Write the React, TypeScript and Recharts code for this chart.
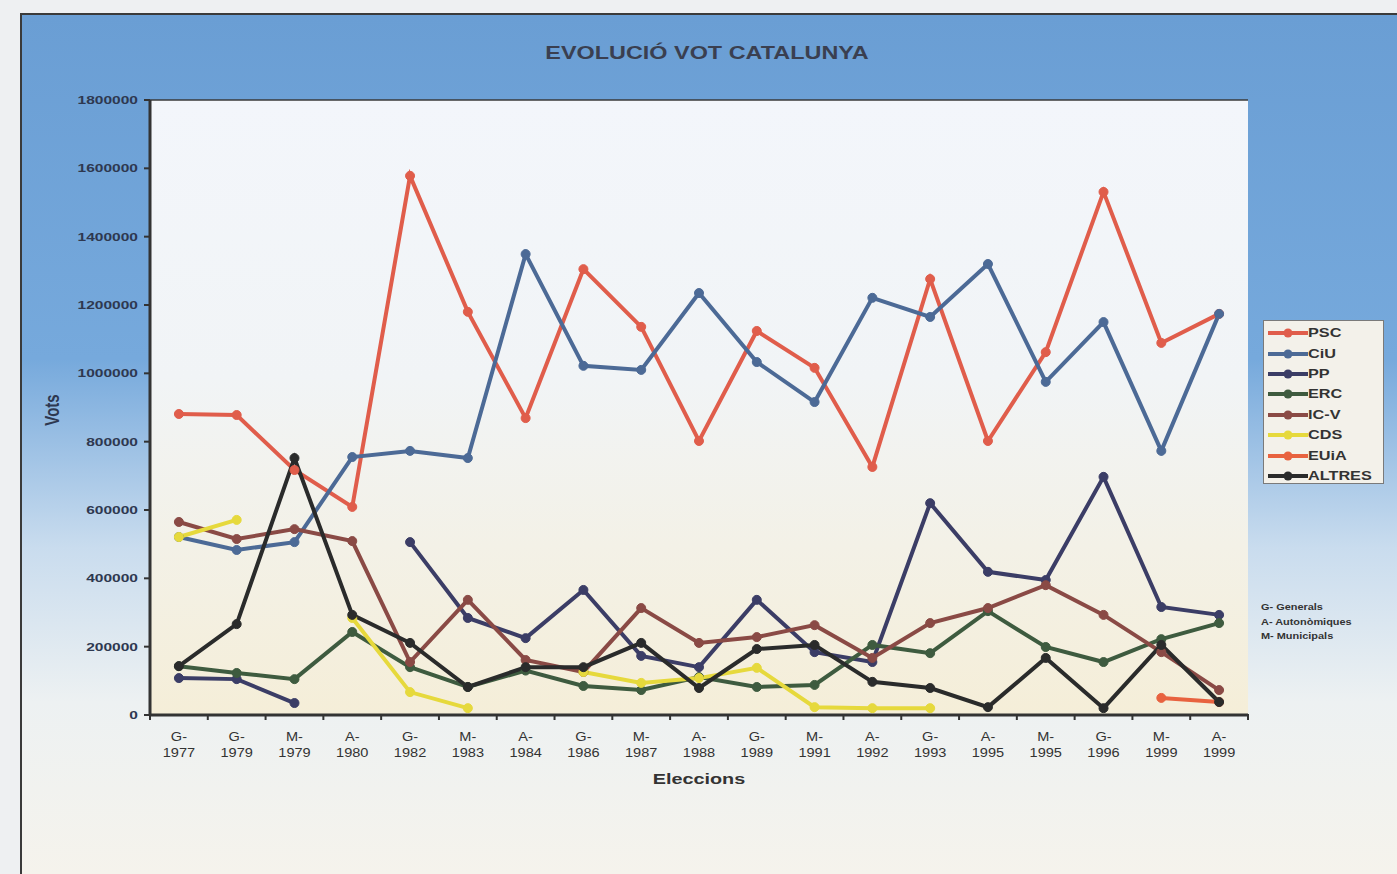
import React from "react";
import {
  LineChart,
  Line,
  XAxis,
  YAxis,
  CartesianGrid,
  Legend,
} from "recharts";

// eleccions: G- generals, A- autonòmiques, M- municipals
const eleccions = [
  "G-1977", "G-1979", "M-1979", "A-1980", "G-1982", "M-1983", "A-1984",
  "G-1986", "M-1987", "A-1988", "G-1989", "M-1991", "A-1992", "G-1993",
  "A-1995", "M-1995", "G-1996", "M-1999", "A-1999",
];

const psc = [881000, 878000, 717000, 609000, 1578000, 1180000, 869000, 1305000, 1136000, 802000, 1124000, 1016000, 726000, 1276000, 802000, 1062000, 1531000, 1089000, 1174000];
const ciu = [521000, 483000, 506000, 755000, 773000, 752000, 1349000, 1022000, 1010000, 1235000, 1033000, 916000, 1221000, 1165000, 1320000, 975000, 1150000, 773000, 1174000];
const pp = [108000, 105000, 35000, null, 506000, 284000, 225000, 366000, 173000, 140000, 337000, 184000, 155000, 620000, 419000, 395000, 697000, 316000, 293000];
const erc = [143000, 123000, 105000, 243000, 140000, 82000, 130000, 85000, 73000, 111000, 82000, 88000, 205000, 181000, 304000, 199000, 155000, 222000, 269000];
const icv = [565000, 515000, 544000, 509000, 155000, 337000, 161000, 126000, 313000, 211000, 228000, 263000, 167000, 269000, 313000, 380000, 293000, 184000, 73000];
const cds = [521000, 571000, null, 284000, 67000, 20000, null, 126000, 94000, 108000, 138000, 23000, 20000, 20000, null, null, null, null, null];
const euia = [null, null, null, null, null, null, null, null, null, null, null, null, null, null, null, null, null, 50000, 38000];
const altres = [143000, 266000, 752000, 293000, 211000, 82000, 140000, 140000, 211000, 79000, 193000, 205000, 97000, 79000, 23000, 167000, 20000, 205000, 38000];

const yTicks = [0, 200000, 400000, 600000, 800000, 1000000, 1200000, 1400000, 1600000, 1800000];

const series = [
  { key: "PSC", values: psc, color: "#E05D4B" },
  { key: "CiU", values: ciu, color: "#4C6A96" },
  { key: "PP", values: pp, color: "#3B3D66" },
  { key: "ERC", values: erc, color: "#3E5B3F" },
  { key: "IC-V", values: icv, color: "#8A4A45" },
  { key: "CDS", values: cds, color: "#E6D93C" },
  { key: "EUiA", values: euia, color: "#E8623F" },
  { key: "ALTRES", values: altres, color: "#2A2B2B" },
];

const data = eleccions.map((e, i) => {
  const row: any = { name: e };
  series.forEach((s) => {
    row[s.key] = s.values[i];
  });
  return row;
});

const FONT = "'Liberation Sans', Arial, sans-serif";
const PLOT_W = 1098;
const HALF_BAND = PLOT_W / eleccions.length / 2;

const YTick = (props: any) => {
  const { x, y, payload } = props;
  return (
    <g transform={`translate(${x},${y}) scale(1.35,1)`}>
      <text
        x={0}
        y={4}
        textAnchor="end"
        fontSize={11.5}
        fontWeight="bold"
        fontFamily={FONT}
        fill="#2e3850"
      >
        {payload.value}
      </text>
    </g>
  );
};

const XTick = (props: any) => {
  const { x, y, payload, index } = props;
  const [pre, year] = String(payload.value).split("-");
  return (
    <g>
      <line x1={x + HALF_BAND} x2={x + HALF_BAND} y1={y - 9} y2={y - 3} stroke="#333" strokeWidth={2} />
      {index === 0 && (
        <line x1={x - HALF_BAND} x2={x - HALF_BAND} y1={y - 9} y2={y - 3} stroke="#333" strokeWidth={2} />
      )}
      <g transform={`translate(${x},${y}) scale(1.12,1)`}>
        <text textAnchor="middle" fontSize={13} fontFamily={FONT} fill="#333">
          <tspan x={0} y={18}>{pre + "-"}</tspan>
          <tspan x={0} y={34}>{year}</tspan>
        </text>
      </g>
    </g>
  );
};

const renderLegend = () => (
  <div
    style={{
      width: 121,
      height: 164,
      boxSizing: "border-box",
      border: "1px solid #7a7a7a",
      background: "#f3f1ea",
      padding: "2px 0 0 4px",
    }}
  >
    {series.map((s) => (
      <div key={s.key} style={{ display: "flex", alignItems: "center", height: 20.4 }}>
        <svg width={40} height={10}>
          <line x1={0} x2={40} y1={5} y2={5} stroke={s.color} strokeWidth={4} />
          <circle cx={20} cy={5} r={4.5} fill={s.color} />
        </svg>
        <span
          style={{
            display: "inline-block",
            fontFamily: FONT,
            fontSize: 12.5,
            fontWeight: 600,
            color: "#333",
            transform: "scaleX(1.3)",
            transformOrigin: "left center",
            lineHeight: "14px",
          }}
        >
          {s.key}
        </span>
      </div>
    ))}
  </div>
);

export default function App() {
  return (
    <div
      style={{
        position: "absolute",
        left: 0,
        top: 0,
        width: 1397,
        height: 874,
        overflow: "hidden",
        background: "#eef0f2",
      }}
    >
      <div
        style={{
          position: "absolute",
          left: 20,
          top: 13,
          right: 0,
          bottom: 0,
          borderLeft: "2px solid #3a3a3a",
          borderTop: "2px solid #3a3a3a",
          background:
            "linear-gradient(to bottom, #6a9ed4 0%, #76a9dc 40%, #c9dcee 62%, #edf1f2 80%, #f5f3ec 100%)",
        }}
      />
      <div
        style={{
          position: "absolute",
          left: 707,
          top: 43,
          transform: "translateX(-50%) scaleX(1.3)",
          fontFamily: FONT,
          fontWeight: "bold",
          fontSize: 18,
          lineHeight: "20px",
          color: "#3a3f50",
          whiteSpace: "nowrap",
        }}
      >
        EVOLUCIÓ VOT CATALUNYA
      </div>
      <div
        style={{
          position: "absolute",
          left: 52,
          top: 410,
          transform: "translate(-50%,-50%) rotate(-90deg) scaleY(1.3)",
          fontFamily: FONT,
          fontWeight: "bold",
          fontSize: 15,
          color: "#2e3850",
        }}
      >
        Vots
      </div>
      <div
        style={{
          position: "absolute",
          left: 699,
          top: 778,
          transform: "translate(-50%,-50%) scaleX(1.32)",
          fontFamily: FONT,
          fontWeight: "bold",
          fontSize: 15,
          color: "#333",
        }}
      >
        Eleccions
      </div>
      <div
        style={{
          position: "absolute",
          left: 1261,
          top: 600,
          fontFamily: FONT,
          fontWeight: "bold",
          fontSize: 9.5,
          lineHeight: "14.5px",
          color: "#333",
          transform: "scaleX(1.15)",
          transformOrigin: "left top",
          whiteSpace: "nowrap",
        }}
      >
        <div>G- Generals</div>
        <div>A- Autonòmiques</div>
        <div>M- Municipals</div>
      </div>
      <div style={{ position: "absolute", left: 0, top: 0 }}>
        <LineChart
          width={1397}
          height={874}
          data={data}
          margin={{ top: 100, right: 149, bottom: 89, left: 0 }}
        >
          <defs>
            <linearGradient id="plotBg" x1="0" y1="0" x2="0" y2="1">
              <stop offset="0%" stopColor="#f3f6fb" />
              <stop offset="45%" stopColor="#f1f4f6" />
              <stop offset="100%" stopColor="#f5eed8" />
            </linearGradient>
          </defs>
          <CartesianGrid
            vertical={false}
            stroke="#3a3a3a"
            strokeWidth={1.5}
            fill="url(#plotBg)"
            fillOpacity={1}
          />
          <XAxis
            dataKey="name"
            height={70}
            padding={{ left: HALF_BAND, right: HALF_BAND }}
            axisLine={{ stroke: "#333", strokeWidth: 3 }}
            tickLine={false}
            tick={<XTick />}
            interval={0}
          />
          <YAxis
            yAxisId="left"
            width={150}
            domain={[0, 1800000]}
            ticks={yTicks}
            axisLine={{ stroke: "#333", strokeWidth: 3 }}
            tickLine={{ stroke: "#333", strokeWidth: 2 }}
            tickSize={6}
            tickMargin={6}
            tick={<YTick />}
            interval={0}
          />
          <YAxis
            yAxisId="right"
            orientation="right"
            width={0}
            domain={[0, 1800000]}
            axisLine={{ stroke: "#9a9a9a", strokeWidth: 1.5 }}
            tick={false}
            tickLine={false}
          />
          {series.map((s) => (
            <Line
              key={s.key}
              yAxisId="left"
              type="linear"
              dataKey={s.key}
              stroke={s.color}
              strokeWidth={4}
              dot={{ r: 4.5, fill: s.color, stroke: s.color, strokeWidth: 1 }}
              activeDot={false}
              connectNulls={false}
              isAnimationActive={false}
            />
          ))}
          <Legend
            layout="vertical"
            align="center"
            verticalAlign="middle"
            content={renderLegend}
            wrapperStyle={{ position: "absolute", left: 1263, top: 320, width: 121 }}
          />
        </LineChart>
      </div>
    </div>
  );
}
